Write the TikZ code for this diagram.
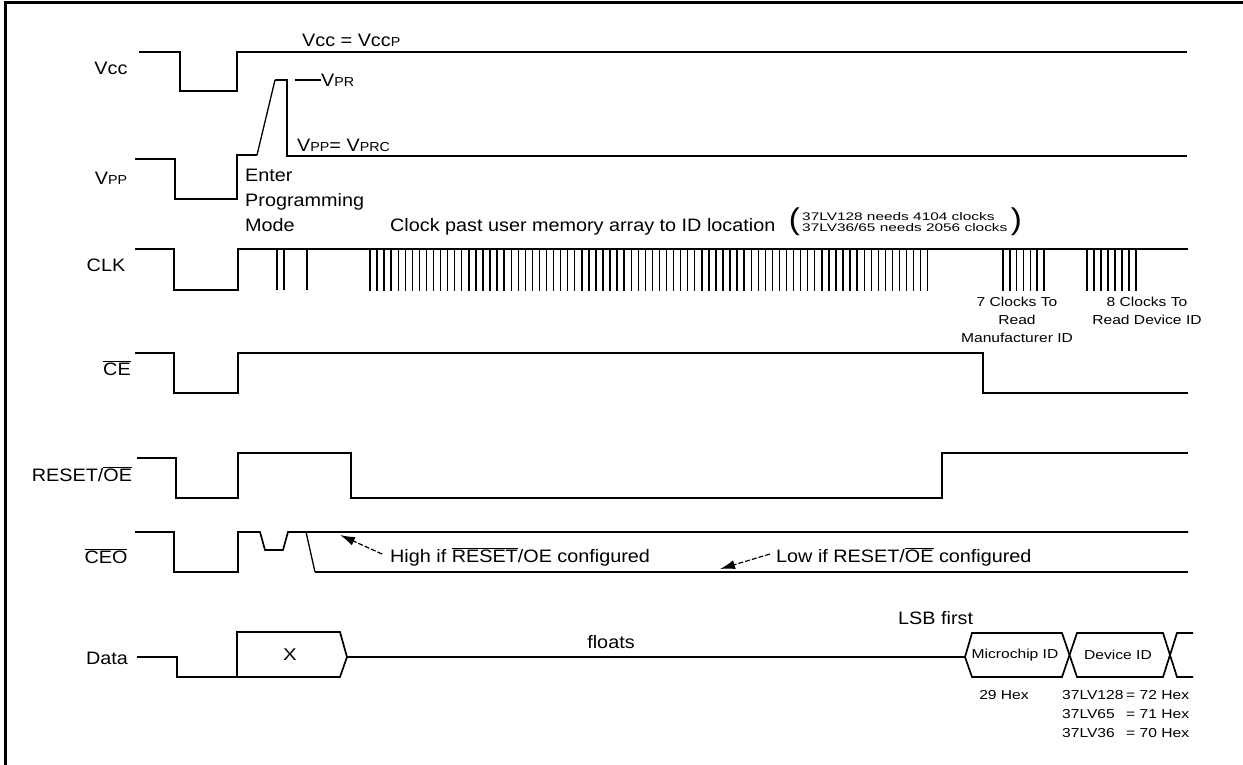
\documentclass[tikz,border=0pt]{standalone}
\usepackage{fontspec}
\setmainfont{Liberation Sans}[FakeStretch=1.1]
\newfontfamily\smf{Liberation Sans}[FakeStretch=1.2]
\newfontfamily\tnf{Liberation Sans}[FakeStretch=1.4]
\usetikzlibrary{arrows.meta}
\newcommand\ovl[1]{\ensuremath{\overline{\hbox{#1}}}}
\newcommand\sm[1]{{\fontsize{13}{13}\selectfont #1}}
\tikzset{
  sig/.style={line width=1.7pt, line join=miter},
  slant/.style={line width=1.3pt},
  pulse/.style={line width=1.4pt},
  lbl/.style={font=\fontsize{18}{25}\selectfont, inner sep=0pt},
  small/.style={font=\smf\fontsize{13}{18}\selectfont, inner sep=0pt, align=center},
  tiny/.style={font=\tnf\fontsize{11}{11.5}\selectfont, inner sep=0pt, align=left},
  paren/.style={font=\fontsize{30}{30}\selectfont, inner sep=0pt},
  note/.style={-{Latex[length=15pt,width=9pt]}, line width=1.2pt, dash pattern=on 5pt off 2pt}
}
\begin{document}
\begin{tikzpicture}[x=1pt,y=-1pt]
\useasboundingbox (0,0) rectangle (1243,765);
% frame
\draw[line width=3pt] (5,765) -- (5,2.5) -- (1243,2.5);

% ---------------- Vcc
\node[lbl] (lvcc) at (111,68) {Vcc};
\draw[sig] (139,52) -- (180,52) -- (180,91) -- (237,91) -- (237,52) -- (1187,52);
\node[lbl, anchor=west] (vccp) at (302,40) {Vcc = Vcc\sm{P}};

% ---------------- Vpp
\node[lbl] (lvpp) at (111,178) {V\sm{PP}};
\draw[sig] (135,159) -- (175,159) -- (175,199) -- (237,199) -- (237,155) -- (257,155);
\draw[slant] (257,155) -- (275,80);
\draw[sig] (275,80) -- (287,80) -- (287,156) -- (1187,156);
\coordinate (vprA) at (295,80);
\node[lbl, anchor=west] (vpr) at (321,80) {V\sm{PR}};
\draw[sig] (vprA) -- (vpr.west);
\node[lbl, anchor=west] (vppeq) at (297,145) {V\sm{PP}= V\sm{PRC}};
\node[lbl, anchor=west, align=left] (enter) at (245,200) {Enter\\Programming\\Mode};

% ---------------- CLK
\node[lbl] (lclk) at (106,265) {CLK};
\draw[sig] (135,249) -- (174,249) -- (174,290) -- (238,290) -- (238,249) -- (1188,249);
\foreach \x in {277,284,307} \draw[pulse] (\x,249) -- (\x,290);
\foreach \i in {0,...,79} \draw[pulse] ({370+\i*7.06},249) -- ++(0,42);
\foreach \i in {0,...,6} \draw[pulse] ({1003+\i*6.8},249) -- ++(0,42);
\foreach \i in {0,...,7} \draw[pulse] ({1087+\i*7},249) -- ++(0,42);
\node[lbl, anchor=west] (clktxt) at (390,227) {Clock past user memory array to ID location};
\node[tiny, anchor=west] (clkpar) at (802,222) {37LV128 needs 4104 clocks\\37LV36/65 needs 2056 clocks};
\node[paren, anchor=east] (pl) at ([xshift=-2pt]clkpar.west) {(};
\node[paren, anchor=west] (pr) at ([xshift=3pt]clkpar.east) {)};
\node[small] (man) at (1017,320) {7 Clocks To\\Read\\Manufacturer ID};
\node[small] (dev) at (1147,311) {8 Clocks To\\Read Device ID};

% ---------------- CE
\node[lbl] (lce) at (117,368) {\ovl{CE}};
\draw[sig] (135,353) -- (174,353) -- (174,393) -- (238,393) -- (238,353) -- (983,353) -- (983,393) -- (1188,393);

% ---------------- RESET/OE
\node[lbl] (lrst) at (82,474) {RESET/\ovl{OE}};
\draw[sig] (137,458) -- (176,458) -- (176,498) -- (238,498) -- (238,453) -- (351,453) -- (351,498) -- (942,498) -- (942,453) -- (1188,453);

% ---------------- CEO
\node[lbl] (lceo) at (106,556) {\ovl{CEO}};
\draw[sig] (135,532) -- (174,532) -- (174,572) -- (238,572) -- (238,532) -- (260,532) -- (265,550) -- (283,550) -- (288,532) -- (1188,532);
\draw[slant] (306,532) -- (315,572);
\draw[sig] (315,572) -- (1188,572);
\node[lbl, anchor=west] (high) at (390,557) {High if \ovl{RESET}/OE configured};
\node[lbl, anchor=west] (low) at (776,557) {Low if RESET/\ovl{OE} configured};
\coordinate (hightip) at (340,535);
\coordinate (lowtip) at (720,569);
\draw[note] (high.west) ++(-8,-3) coordinate (htail) -- (hightip);
\draw[note] (low.west) ++(-6,-3) coordinate (ltail) -- (lowtip);

% ---------------- Data
\node[lbl] (ldata) at (107,658) {Data};
\draw[sig] (137,657) -- (177,657) -- (177,677) -- (237,677) -- (237,632) -- (340,632) -- (347,657) -- (340,677) -- (237,677);
\node[small, font=\smf\fontsize{17}{17}\selectfont] (xval) at (290,655) {X};
\draw[sig] (347,657) -- (965,657);
\node[lbl] (floats) at (611,642) {floats};
\node[lbl, anchor=west] (lsb) at (898,618) {LSB first};
\draw[sig] (965,657) -- (972,633) -- (1062,633) -- (1077,677) -- (1163,677) -- (1177,633) -- (1193,633);
\draw[sig] (965,657) -- (972,677) -- (1062,677) -- (1077,633) -- (1163,633) -- (1177,677) -- (1193,677);
\node[small] (mid) at (1015,655) {Microchip ID};
\node[small] (did) at (1118,655) {Device ID};
\node[small] (hex29) at (1004,695) {29 Hex};
\node[small, anchor=west] (p1) at (1062,695) {37LV128};
\node[small, anchor=west] (p2) at (1062,714) {37LV65};
\node[small, anchor=west] (p3) at (1062,733) {37LV36};
\node[small, anchor=west] (h1) at (1126,695) {= 72 Hex};
\node[small, anchor=west] (h2) at (1126,714) {= 71 Hex};
\node[small, anchor=west] (h3) at (1126,733) {= 70 Hex};
\end{tikzpicture}
\end{document}
